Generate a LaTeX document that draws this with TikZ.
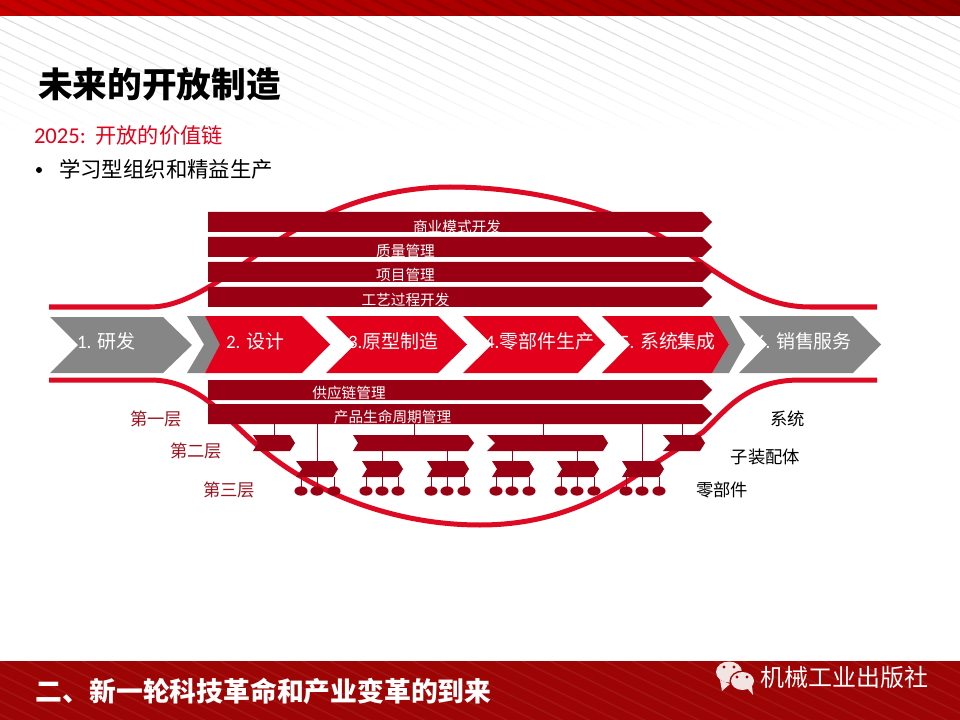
\documentclass[tikz,border=0pt]{standalone}
\usepackage{fontspec}
\setmainfont{Carlito}
\newfontfamily\cjk{Noto Sans CJK SC}
\newfontfamily\lat{Carlito}
\usetikzlibrary{shapes.geometric}
\definecolor{bandred}{HTML}{9A0014}
\definecolor{chevred}{HTML}{E2001A}
\definecolor{chevgray}{HTML}{868686}
\definecolor{curvered}{HTML}{DE0A24}
\definecolor{lblred}{HTML}{9A1420}
\definecolor{footred}{HTML}{9D0505}
\definecolor{bubble}{HTML}{F3E4E4}
\newcommand{\chev}[7]{\fill[#1] (#2,#6) -- (#4,#6) -- (#5,{(#6+#7)/2}) -- (#4,#7) -- (#2,#7) -- (#3,{(#6+#7)/2}) -- cycle;}
\newcommand{\fsz}[1]{\fontsize{#1}{#1}\selectfont\cjk}
\tikzset{
  txt/.style={inner sep=0pt,outer sep=0pt},
  bandtxt/.style={txt,text=white,font=\fsz{11}},
  chevtxt/.style={txt,text=white,anchor=west,font=\fsz{14.2}},
  lvl/.style={txt,text=lblred,font=\fsz{13}},
  part/.style={txt,text=black,font=\fsz{13}},
  conn/.style={draw=bandred,line width=0.75pt},
  curve/.style={draw=curvered,line width=3.75pt,line cap=butt},
  ball/.style={ellipse,fill=bandred,minimum width=9.8pt,minimum height=7pt,inner sep=0pt}
}
\begin{document}
\begin{tikzpicture}[x=0.75pt,y=-0.75pt]
\useasboundingbox (0,0) rectangle (960,720);
\fill[white] (0,0) rectangle (960,720);
% background stripes fading downward
\foreach \b in {0,...,19}{
  \pgfmathsetmacro{\mixv}{max(0,15*(1-\b/19))}
  \begin{scope}
    \clip (0,{16+\b*6}) rectangle (960,{22+\b*6});
    \foreach \k in {-10,...,35}
      \draw[black!\mixv!white,line width=0.8pt] ({27.5*\k},16) -- ({27.5*\k+400},{16+194});
  \end{scope}
}
% top bar
\shade[left color=red!78!black,right color=red!55!black] (0,0) rectangle (960,16);
\begin{scope}
  \clip (0,0) rectangle (960,16);
  \foreach \k in {-4,...,35}
    \draw[black,opacity=.12,line width=2.2pt] ({27.5*\k},-8) -- ({27.5*\k+100},{-8+48.5});
\end{scope}
% footer
\fill[footred] (0,661) rectangle (960,720);
\begin{scope}
  \clip (0,661) rectangle (960,720);
  \foreach \k in {-6,...,35}
    \draw[white,opacity=.06,line width=1.2pt] ({27.5*\k},661) -- ({27.5*\k+140},{661+68});
\end{scope}
% curves
\draw[curve] (49,307) -- (150,307) .. controls (195,307) and (240,263) .. (290,233)
  .. controls (340,203) and (395,187) .. (450,187)
  .. controls (520,187) and (600,203) .. (660,236)
  .. controls (710,264) and (750,307) .. (810,307) -- (877,307);
\draw[curve] (49,380) -- (150,380) .. controls (200,380) and (225,419) .. (263,450)
  .. controls (320,497) and (400,525) .. (480,525)
  .. controls (540,525) and (590,507) .. (637,475)
  .. controls (660,460) and (680,448) .. (703,432)
  .. controls (725,412) and (745,380) .. (800,380) -- (877,380);
% top bands
\chev{bandred}{208}{208}{702}{712}{212}{232}
\chev{bandred}{208}{208}{702}{712}{237}{257}
\chev{bandred}{208}{208}{702}{712}{262}{282}
\chev{bandred}{208}{208}{702}{712}{287}{307}
% main chevrons
\chev{chevgray}{50}{78}{163}{192}{317}{373}
\chev{chevgray}{187}{204}{205}{221}{316}{373}
\chev{chevred}{205}{220}{302}{330}{316}{373}
\chev{chevred}{326}{355}{438}{467}{316}{373}
\chev{chevred}{463}{492}{578}{605}{316}{373}
\chev{chevgray}{712}{729}{729}{745}{316}{373}
\chev{chevred}{602}{630}{712}{729}{316}{373}
\chev{chevgray}{739}{767}{853}{881}{316}{373}
% bottom bands
\chev{bandred}{208}{208}{702}{712}{380}{400}
\chev{bandred}{208}{208}{702}{712}{404}{424}
% connectors
\foreach \x in {274,414,543,682} \draw[conn] (\x,424) -- (\x,435);
\foreach \x in {317,642} \draw[conn] (\x,424) -- (\x,461);
\foreach \x in {382,447,512,577} \draw[conn] (\x,451) -- (\x,461);
% level 2
\chev{bandred}{253}{258}{290}{295}{435}{451}
\chev{bandred}{353}{358}{468}{474}{435}{451}
\chev{bandred}{487}{495}{603}{608}{435}{451}
\chev{bandred}{663}{670}{700}{705}{435}{451}
% level 3
\chev{bandred}{296}{302}{333}{338}{461}{477}
\chev{bandred}{362}{367}{398}{403}{461}{477}
\chev{bandred}{427}{432}{464}{469}{461}{477}
\chev{bandred}{492}{497}{529}{534}{461}{477}
\chev{bandred}{557}{562}{594}{599}{461}{477}
\chev{bandred}{622}{627}{659}{664}{461}{477}
% parts
\foreach \x in {301,317,334,366,382,398,431,447,464,496,512,529,561,577,594,626,642,659}{
  \node[ball] (b\x) at (\x,491) {};
  \draw[conn] (b\x.center) -- (\x,477);
}
% band labels
\node[bandtxt] (t1) at (457,226.5) {商业模式开发};
\node[bandtxt] (t2) at (405.5,250.5) {质量管理};
\node[bandtxt] (t3) at (405.5,274.7) {项目管理};
\node[bandtxt] (t4) at (405.5,299.5) {工艺过程开发};
\node[bandtxt] (t5) at (349,392.5) {供应链管理};
\node[bandtxt] (t6) at (392.5,416.7) {产品生命周期管理};
% chevron labels
\node[chevtxt] (c1) at (77,341) {{\lat 1. }研发};
\node[chevtxt] (c2) at (226,341) {{\lat 2. }设计};
\node[chevtxt] (c3) at (348,341) {{\lat 3.}原型制造};
\node[chevtxt] (c4) at (485,341) {{\lat 4.}零部件生产};
\node[chevtxt] (c5) at (620,341) {{\lat 5. }系统集成};
\node[chevtxt] (c6) at (756,341) {{\lat 6. }销售服务};
% tier labels
\node[lvl] (l1) at (156,419) {第一层};
\node[lvl] (l2) at (196,451) {第二层};
\node[lvl] (l3) at (229,489.5) {第三层};
\node[part] (p1) at (787.5,418.5) {系统};
\node[part] (p2) at (765.5,456.5) {子装配体};
\node[part] (p3) at (722,489.5) {零部件};
% headings
\node[txt,anchor=west,font=\fsz{26}\bfseries] (title) at (38,84) {未来的开放制造};
\node[txt,anchor=west,text=chevred,font=\fsz{15.9}] (sub) at (34,135) {{\lat\fontsize{17}{17}\selectfont 2025: }\hspace{2pt}开放的价值链};
\fill[black] (39,170) circle (3);
\node[txt,anchor=west,font=\fsz{16.05}] (bul) at (59,169) {学习型组织和精益生产};
\node[txt,anchor=west,text=white,font=\fsz{20.1}\bfseries] (foot) at (36,691) {二、新一轮科技革命和产业变革的到来};
% logo
\fill[bubble] (720,680) -- (722,691) -- (730,684) -- cycle;
\fill[bubble] (729,672) ellipse (13 and 10.5);
\fill[footred] (742.5,681) ellipse (13 and 10.5);
\fill[bubble] (747,688) -- (753,695) -- (752,686) -- cycle;
\fill[bubble] (742.5,681) ellipse (11.5 and 9);
\foreach \ex/\ey in {724/667,734/667,737/677,747/677}
  \fill[footred] (\ex,\ey) circle (1.7);
\node[txt,anchor=west,text=white,font=\fsz{18}] (wx) at (760,677) {机械工业出版社};
\end{tikzpicture}
\end{document}
